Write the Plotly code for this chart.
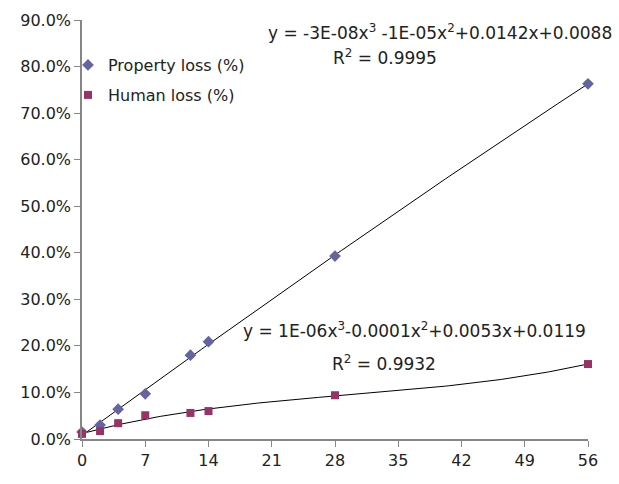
import numpy as np
import plotly.graph_objects as go

days = [0, 2, 4, 7, 12, 14, 28, 56]
property_loss = [0.015, 0.030, 0.064, 0.097, 0.180, 0.209, 0.393, 0.763]
human_loss = [0.011, 0.017, 0.034, 0.051, 0.056, 0.060, 0.094, 0.161]
x_ticks = [0, 7, 14, 21, 28, 35, 42, 49, 56]

# cubic trendlines fitted to the data (as the spreadsheet does)
xs = np.linspace(0, 56, 200)
p_fit = np.polyval(np.polyfit(days, property_loss, 3), xs)
h_fit = np.polyval(np.polyfit(days, human_loss, 3), xs)

FONT = "DejaVu Sans"
L, R, T, B = 82, 31, 20, 45
W, H = 619, 484
pw, ph = W - L - R, H - T - B


def px(x):
    return (x - L) / pw


def py(y):
    return 1 - (y - T) / ph


fig = go.Figure()
fig.add_trace(go.Scatter(x=xs, y=p_fit, mode="lines", line=dict(color="black", width=1),
                         showlegend=False, hoverinfo="skip"))
fig.add_trace(go.Scatter(x=xs, y=h_fit, mode="lines", line=dict(color="black", width=1),
                         showlegend=False, hoverinfo="skip"))
fig.add_trace(go.Scatter(x=days, y=property_loss, mode="markers", name="Property loss (%)",
                         marker=dict(symbol="diamond", size=9, color="#6464A0"),
                         cliponaxis=False, legend="legend"))
fig.add_trace(go.Scatter(x=days, y=human_loss, mode="markers", name="Human loss (%)",
                         marker=dict(symbol="square", size=8, color="#993366"),
                         cliponaxis=False, legend="legend2"))

leg = dict(xanchor="left", yanchor="top", bgcolor="rgba(0,0,0,0)",
           font=dict(size=16), itemwidth=30)
fig.update_layout(
    width=W, height=H,
    margin=dict(l=L, r=R, t=T, b=B, autoexpand=False),
    paper_bgcolor="white", plot_bgcolor="white",
    font=dict(family=FONT, size=16, color="#222222"),
    legend=dict(x=px(68), y=py(48), **leg),
    legend2=dict(x=px(68), y=py(78), **leg),
    showlegend=True,
)
fig.update_xaxes(range=[0, 56], tickvals=x_ticks, showgrid=False, zeroline=False,
                 showline=True, linecolor="#868686", linewidth=1.5, automargin=False,
                 ticks="outside", ticklen=6, tickcolor="#868686", tickfont=dict(size=16))
fig.update_yaxes(range=[0, 0.9], dtick=0.1, tickformat=".1%", showgrid=False, zeroline=False,
                 showline=True, linecolor="#868686", linewidth=1.5, automargin=False,
                 ticks="outside", ticklen=6, tickcolor="#868686", tickfont=dict(size=16))

annos = [
    (440, 32, "y = -3E-08x<sup>3</sup> -1E-05x<sup>2</sup>+0.0142x+0.0088"),
    (385, 57, "R<sup>2</sup> = 0.9995"),
    (414, 330, "y = 1E-06x<sup>3</sup>-0.0001x<sup>2</sup>+0.0053x+0.0119"),
    (384, 363, "R<sup>2</sup> = 0.9932"),
]
for ax, ay, txt in annos:
    fig.add_annotation(x=px(ax), y=py(ay), xref="paper", yref="paper", showarrow=False,
                       xanchor="center", yanchor="middle", text=txt, font=dict(size=17))

fig.write_html("out.html", config={"displayModeBar": False},
               post_script="document.body.style.margin='0';")
